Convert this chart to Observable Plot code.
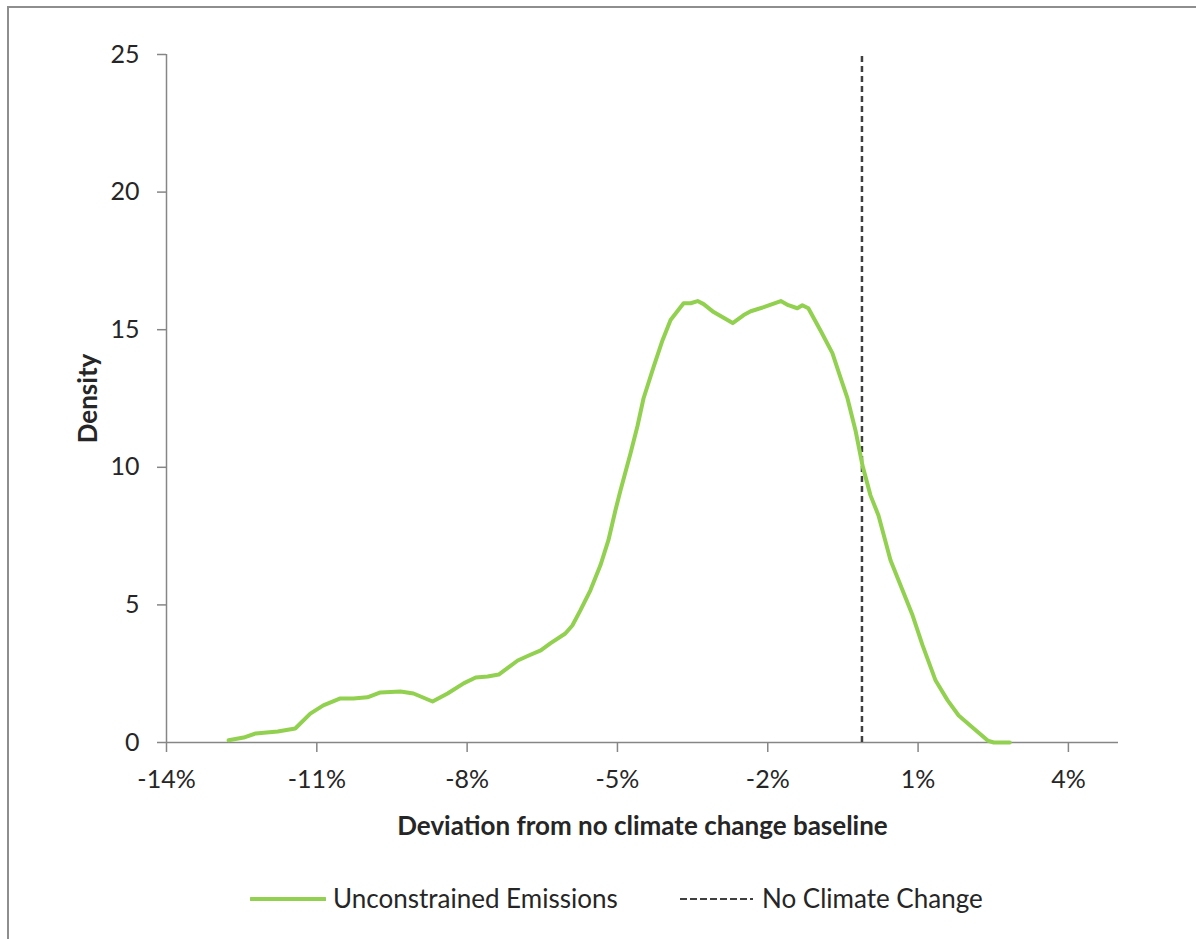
<!DOCTYPE html>
<html>
<head>
<meta charset="utf-8">
<script src="https://cdn.jsdelivr.net/npm/d3@7"></script>
<script src="https://cdn.jsdelivr.net/npm/@observablehq/plot@0.6"></script>
<style>
  html, body { margin: 0; padding: 0; background: #fff; overflow: hidden; }
  body { font-family: Lato, "Open Sans", sans-serif; color: #262626; }
  #frame {
    position: absolute; left: 7px; top: 6px; width: 1400px; height: 1100px;
    border-left: 2px solid #8e8e8e; border-top: 2px solid #8e8e8e;
  }
  #chart { position: absolute; left: 0; top: 0; }
  .lg { position: absolute; font-size: 26px; line-height: 26px; white-space: nowrap; }
  .lg svg { display: block; }
</style>
</head>
<body>
<div id="frame"></div>
<div id="chart"></div>
<svg class="lg" style="left:250px;top:896px" width="76" height="6">
  <line x1="1" x2="75" y1="3" y2="3" stroke="#92D050" stroke-width="4" stroke-linecap="round"/>
</svg>
<div class="lg" style="left:333px;top:885px">Unconstrained Emissions</div>
<svg class="lg" style="left:680px;top:897px" width="74" height="4">
  <line x1="0" x2="73" y1="2" y2="2" stroke="#404040" stroke-width="2" stroke-dasharray="7,3"/>
</svg>
<div class="lg" style="left:762px;top:885px">No Climate Change</div>
<script>
// Deviation from the no-climate-change baseline (%), and the estimated density there
const deviation = [
  -12.76, -12.46, -12.22, -11.78, -11.43, -11.13, -10.87, -10.53, -10.27, -9.99,
  -9.73, -9.33, -9.07, -8.69, -8.39, -8.07, -7.83, -7.59, -7.37, -6.99,
  -6.77, -6.53, -6.34, -6.04, -5.90, -5.74, -5.54, -5.34, -5.18, -5.04,
  -4.94, -4.74, -4.60, -4.48, -4.28, -4.10, -3.94, -3.68, -3.54, -3.40,
  -3.28, -3.08, -2.70, -2.48, -2.34, -2.08, -1.74, -1.59, -1.41, -1.31,
  -1.19, -0.95, -0.71, -0.55, -0.41, -0.25, -0.11, 0.05, 0.21, 0.45,
  0.65, 0.89, 1.09, 1.35, 1.59, 1.81, 2.11, 2.39, 2.51, 2.83
];
const density = [
  0.08, 0.18, 0.33, 0.40, 0.51, 1.05, 1.35, 1.60, 1.60, 1.64,
  1.82, 1.85, 1.78, 1.49, 1.78, 2.15, 2.36, 2.40, 2.47, 2.98,
  3.16, 3.35, 3.60, 3.96, 4.25, 4.80, 5.53, 6.44, 7.35, 8.44,
  9.16, 10.50, 11.50, 12.50, 13.64, 14.62, 15.35, 15.96, 15.96, 16.04,
  15.93, 15.64, 15.24, 15.53, 15.67, 15.82, 16.04, 15.89, 15.78, 15.89,
  15.78, 14.98, 14.15, 13.27, 12.51, 11.35, 10.07, 8.98, 8.25, 6.62,
  5.71, 4.62, 3.53, 2.25, 1.53, 0.98, 0.51, 0.07, 0.00, 0.00
];
const noClimateChange = [-0.12];
const xTicks = [-14, -11, -8, -5, -2, 1, 4];
const yTicks = [0, 5, 10, 15, 20, 25];

const series = deviation.map((d, i) => ({deviation: d, density: density[i]}));
const axisGray = "#868686";

const chart = Plot.plot({
  width: 1196,
  height: 850,
  marginLeft: 166,
  marginRight: 78,
  marginTop: 54,
  marginBottom: 108,
  style: {fontFamily: "Lato, 'Open Sans', sans-serif", fontSize: "25px", color: "#262626", background: "transparent"},
  x: {domain: [-14, 5]},
  y: {domain: [0, 25]},
  marks: [
    Plot.axisX({
      ticks: xTicks, tickFormat: d => d + "%", tickSize: 10, tickPadding: 18,
      stroke: axisGray, strokeWidth: 1.5, fontSize: 25,
      label: "Deviation from no climate change baseline", labelAnchor: "center",
      labelOffset: 92, labelArrow: "none"
    }),
    Plot.axisY({
      ticks: yTicks, tickSize: 9, tickPadding: 18,
      stroke: axisGray, strokeWidth: 1.5, fontSize: 25,
      label: "Density", labelAnchor: "center", labelOffset: 88, labelArrow: "none"
    }),
    Plot.ruleY([0], {stroke: axisGray, strokeWidth: 1.5}),
    Plot.ruleX([-14], {stroke: axisGray, strokeWidth: 1.5}),
    Plot.ruleX(noClimateChange, {y1: 0, y2: 25, stroke: "#404040", strokeWidth: 2.5, strokeDasharray: "6,4"}),
    Plot.line(series, {x: "deviation", y: "density", stroke: "#92D050", strokeWidth: 4, strokeLinejoin: "round"})
  ]
});
// Bold axis titles
chart.querySelectorAll("[aria-label='x-axis label'], [aria-label='y-axis label']").forEach(n => {
  n.style.fontWeight = "bold";
  n.style.fontSize = "26px";
});
document.getElementById("chart").append(chart);
</script>
</body>
</html>
